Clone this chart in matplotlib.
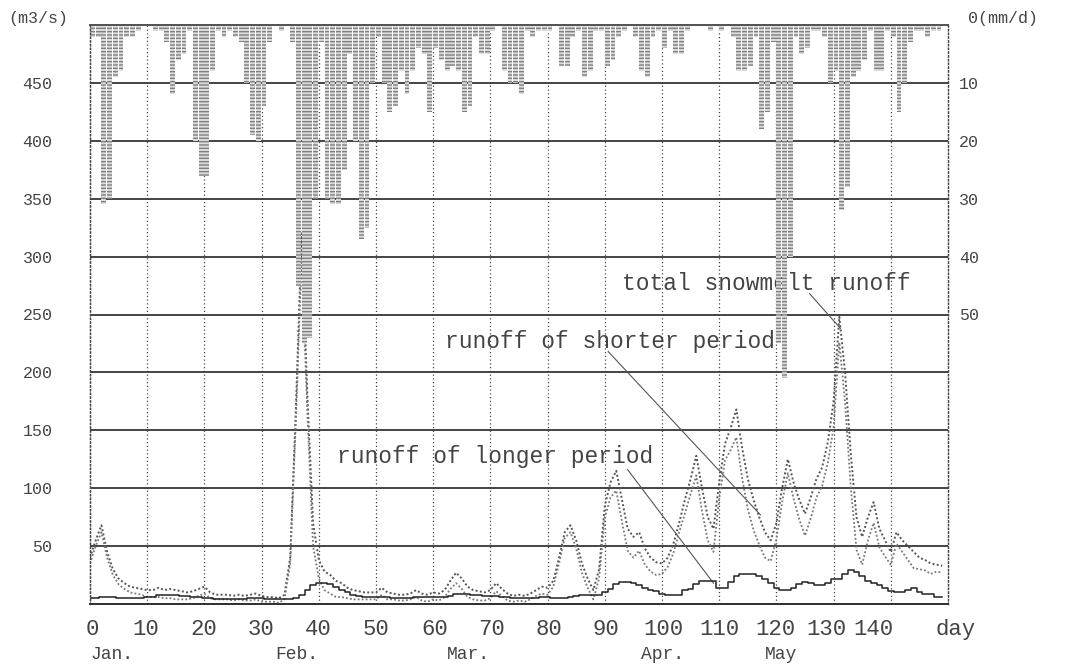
import matplotlib
matplotlib.use("Agg")
import matplotlib.pyplot as plt
import numpy as np

plt.rcParams['font.family'] = ['Liberation Mono', 'DejaVu Sans Mono']

# day number from 1 Jan
days = np.arange(150)

# total snowmelt runoff (m3/s)
total = [40, 55, 68, 45, 30, 22, 18, 15, 14, 13,
         12, 12, 14, 12, 13, 12, 11, 10, 11, 13,
         15, 10, 8, 8, 8, 7, 8, 7, 8, 9,
         7, 6, 6, 5, 8, 40, 170, 320, 180, 70,
         38, 28, 25, 20, 18, 14, 12, 11, 10, 10,
         10, 14, 10, 9, 8, 8, 9, 12, 9, 8,
         10, 9, 12, 20, 27, 22, 15, 12, 11, 10,
         12, 18, 13, 9, 7, 8, 7, 9, 12, 15,
         14, 20, 40, 62, 68, 55, 35, 22, 12, 30,
         85, 105, 115, 90, 65, 58, 62, 48, 40, 36,
         35, 40, 52, 70, 90, 108, 128, 100, 75, 65,
         105, 138, 152, 168, 135, 108, 90, 75, 62, 55,
         70, 100, 125, 105, 90, 78, 92, 108, 118, 140,
         175, 248, 200, 130, 75, 58, 75, 88, 65, 55,
         45, 62, 55, 50, 45, 40, 38, 35, 34, 33]

# runoff of shorter period (m3/s)
shorter = [35, 50, 62, 40, 25, 17, 13, 10, 9, 8,
           6, 6, 6, 5, 5, 4, 4, 4, 5, 7,
           9, 5, 4, 4, 4, 3, 4, 3, 3, 4,
           2, 2, 2, 1, 4, 35, 160, 300, 165, 50,
           22, 12, 9, 6, 6, 5, 4, 4, 4, 4,
           4, 8, 4, 4, 3, 3, 4, 6, 3, 2,
           4, 3, 6, 13, 18, 13, 6, 4, 3, 3,
           5, 11, 7, 3, 2, 3, 2, 4, 7, 9,
           8, 15, 35, 57, 62, 48, 27, 14, 4, 22,
           75, 92, 98, 71, 46, 40, 46, 34, 28, 25,
           26, 32, 44, 62, 78, 95, 111, 80, 55, 45,
           91, 124, 133, 144, 109, 82, 64, 51, 40, 37,
           56, 88, 113, 91, 73, 59, 74, 92, 102, 122,
           153, 226, 174, 101, 47, 34, 55, 70, 49, 41,
           34, 52, 45, 38, 31, 30, 29, 26, 28, 27]

# runoff of longer period (m3/s)
longer = [5, 5, 6, 6, 6, 5, 5, 5, 5, 5,
          6, 6, 8, 8, 8, 8, 7, 7, 6, 6,
          5, 5, 4, 4, 4, 4, 4, 4, 5, 5,
          5, 4, 4, 4, 4, 4, 5, 8, 12, 16,
          18, 18, 17, 15, 12, 10, 8, 7, 6, 6,
          6, 6, 6, 5, 5, 5, 5, 6, 6, 6,
          6, 6, 6, 7, 9, 9, 9, 8, 8, 7,
          7, 7, 6, 6, 5, 5, 5, 5, 5, 6,
          6, 5, 5, 5, 6, 7, 8, 8, 8, 8,
          10, 13, 17, 19, 19, 18, 16, 14, 12, 11,
          9, 8, 8, 8, 12, 13, 17, 20, 20, 20,
          14, 14, 19, 24, 26, 26, 26, 24, 22, 18,
          14, 12, 12, 14, 17, 19, 18, 16, 16, 18,
          22, 22, 26, 29, 28, 24, 20, 18, 16, 14,
          11, 10, 10, 12, 14, 10, 9, 9, 6, 6]

# daily precipitation (mm/d)
rain = [2, 2, 31, 30, 9, 8, 2, 2, 1, 0,
        0, 1, 1, 3, 12, 6, 5, 1, 20, 26,
        26, 8, 1, 2, 1, 2, 3, 10, 19, 20,
        14, 3, 0, 1, 0, 3, 45, 55, 54, 30,
        3, 30, 31, 31, 25, 5, 20, 37, 35, 10,
        2, 10, 15, 14, 8, 12, 8, 4, 5, 15,
        4, 6, 8, 7, 8, 15, 14, 2, 5, 5,
        1, 0, 8, 10, 10, 12, 1, 2, 1, 1,
        1, 0, 7, 7, 2, 1, 9, 8, 1, 1,
        7, 6, 2, 1, 0, 2, 8, 9, 2, 1,
        4, 1, 5, 5, 1, 0, 0, 0, 1, 0,
        1, 0, 2, 8, 8, 7, 2, 18, 15, 3,
        55, 61, 40, 2, 5, 4, 1, 1, 2, 10,
        8, 32, 28, 9, 8, 6, 1, 8, 8, 1,
        2, 15, 10, 3, 1, 1, 2, 1, 1, 0]

day_labels = ['0', '10', '20', '30', '40', '50', '60', '70', '80', '90',
              '100', '110', '120', '130', '140', 'day']
day_label_pos = [0.35, 9.8, 19.9, 29.9, 39.9, 50, 60.3, 70.3, 80.2, 90.2,
                 100.2, 110, 119.8, 128.8, 136.9, 151.4]
months = ['Jan.', 'Feb.', 'Mar.', 'Apr.', 'May']
month_pos = [0, 32.3, 62.4, 96.3, 118]

txt = '#444444'

fig = plt.figure(figsize=(10.79, 6.69), dpi=100)
ax = fig.add_axes([90/1079, 65/669, 858/1079, 579/669])
ax.set_xlim(0, 150)
ax.set_ylim(0, 500)

ax2 = ax.twinx()
ax2.set_ylim(100, 0)

# rain bars hanging from the top
ax2.bar(days, rain, width=0.85, align='edge', color='#dcdcdc',
        edgecolor='#808080', hatch='-----', linewidth=0, zorder=2)

# runoff lines
ax.plot(days, total, ls=(0, (1, 1.2)), color='#555555', lw=1.4, zorder=3)
ax.plot(days, shorter, ls=(0, (1, 1.2)), color='#777777', lw=1.3, zorder=3)
ax.plot(days, longer, drawstyle='steps-mid', color='#222222', lw=1.1, zorder=3)

# grid
ax.set_yticks(range(0, 501, 50))
ax.set_yticklabels([''] + [str(v) for v in range(50, 451, 50)] + [''])
ax.set_xticks(range(0, 141, 10))
ax.set_xticklabels([])
ax.grid(axis='y', ls='-', color='#444444', lw=1.4)
ax.grid(axis='x', ls=(0, (1, 2)), color='#444444', lw=0.9)
ax.set_axisbelow(True)
ax.tick_params(axis='y', length=0, pad=27, labelsize=12, labelcolor=txt)
ax.tick_params(axis='x', length=0)

ax2.set_yticks(range(0, 51, 10))
ax2.set_yticklabels([''] + [str(v) for v in range(10, 51, 10)])
ax2.tick_params(axis='y', length=0, pad=8, labelsize=12, labelcolor=txt)

for a in (ax, ax2):
    a.spines['left'].set_linestyle((0, (1, 2)))
    a.spines['right'].set_linestyle((0, (1, 2)))
    a.spines['left'].set_color('#444444')
    a.spines['right'].set_color('#444444')
    a.spines['left'].set_linewidth(0.9)
    a.spines['right'].set_linewidth(0.9)
    a.spines['top'].set_color('#555555')
    a.spines['top'].set_linewidth(1.4)
    a.spines['bottom'].set_color('#333333')
    a.spines['bottom'].set_linewidth(1.4)

fig.text(8/1079, 1 - 18/669, '(m3/s)', fontsize=12, color=txt, va='center', ha='left')
fig.text(968/1079, 1 - 18/669, '0(mm/d)', fontsize=12, color=txt, va='center', ha='left')

for lab, p in zip(day_labels, day_label_pos):
    ax.text(p, -22, lab, fontsize=16, color=txt, ha='center', va='center', clip_on=False)

for m, p in zip(months, month_pos):
    ax.text(p, -44, m, fontsize=13, color=txt, ha='left', va='center', clip_on=False)

# annotations
ax.text(93, 277, 'total snowmelt runoff', fontsize=16.5, color=txt, va='center', ha='left')
ax.plot([125.8, 131.2], [268, 238], color='#555555', lw=0.8)
ax.text(62, 227, 'runoff of shorter period', fontsize=16.5, color=txt, va='center', ha='left')
ax.plot([90.6, 117.2], [218, 77], color='#555555', lw=0.8)
ax.text(43.2, 127, 'runoff of longer period', fontsize=16.5, color=txt, va='center', ha='left')
ax.plot([94, 109], [116, 18], color='#555555', lw=0.8)

fig.savefig('out.png', dpi=100, facecolor='white')
